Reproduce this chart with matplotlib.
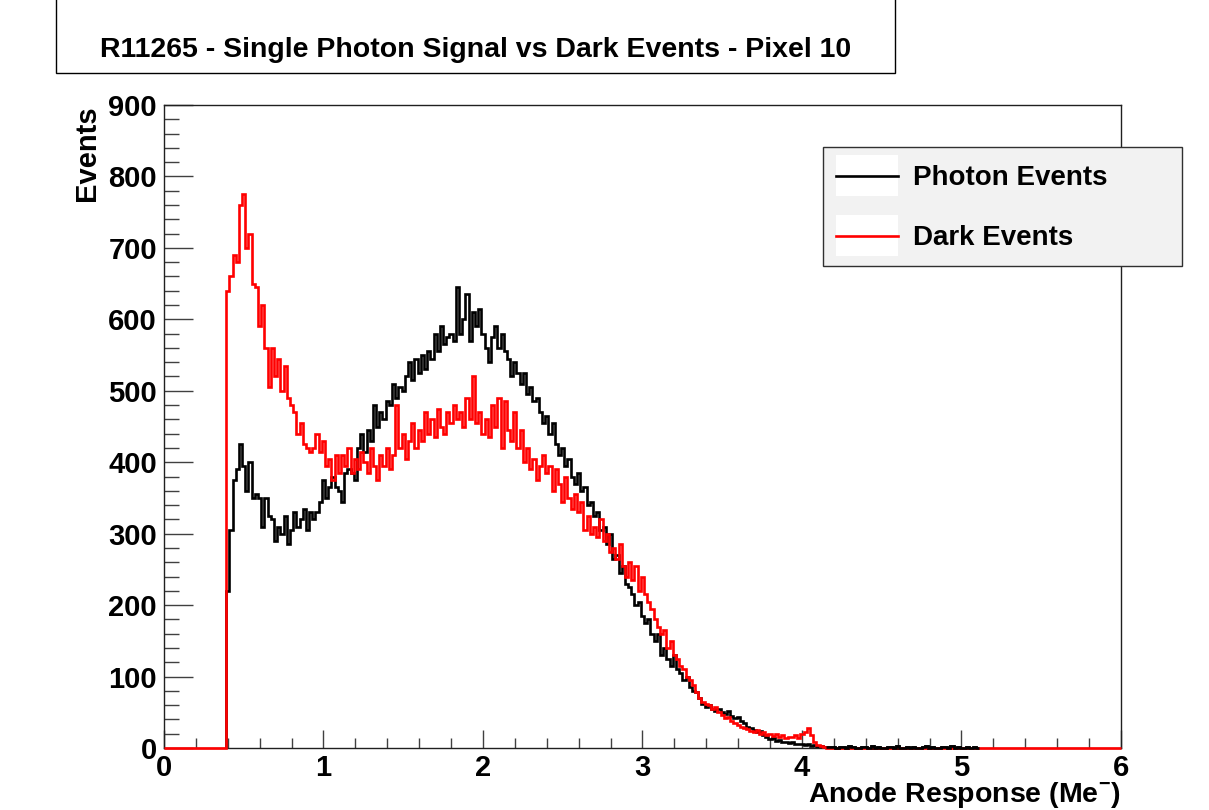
import numpy as np
import matplotlib.pyplot as plt
from matplotlib.patches import Rectangle
from matplotlib.lines import Line2D
from matplotlib.ticker import MultipleLocator

plt.rcParams['font.family'] = ['Liberation Sans', 'DejaVu Sans']
plt.rcParams['font.weight'] = 'bold'
plt.rcParams['mathtext.fontset'] = 'custom'
plt.rcParams['mathtext.rm'] = 'Liberation Sans:bold'
plt.rcParams['mathtext.bf'] = 'Liberation Sans:bold'

# histogram binning (Me-)
first_edge = 0.39
bin_width = 0.02
x_max = 6

# dark events, one value per bin starting at first_edge
dark_counts = [
    640, 660, 690, 680, 760, 775, 700, 720, 650, 645,
    590, 620, 560, 505, 560, 520, 545, 500, 535, 490,
    480, 470, 440, 455, 425, 420, 415, 420, 440, 415,
    430, 395, 405, 375, 410, 385, 410, 395, 420, 385,
    405, 390, 415, 400, 385, 420, 395, 375, 410, 395,
    420, 390, 410, 480, 420, 440, 405, 430, 455, 420,
    445, 430, 470, 440, 460, 435, 475, 450, 440, 470,
    455, 480, 460, 470, 450, 490, 460, 520, 455, 470,
    440, 460, 435, 480, 450, 490, 420, 485, 445, 430,
    470, 420, 445, 400, 420, 390, 405, 375, 395, 410,
    385, 395, 360, 390, 370, 345, 380, 350, 335, 355,
    330, 345, 305, 325, 300, 310, 295, 320, 290, 300,
    275, 280, 265, 285, 255, 240, 260, 235, 255, 220,
    240, 215, 205, 195, 180, 170, 160, 165, 140, 150,
    130, 125, 115, 110, 100, 95, 88, 78, 70, 64,
    62, 60, 55, 58, 50, 46, 42, 44, 38, 35,
    32, 30, 28, 26, 24, 22, 25, 20, 22, 18,
    20, 17, 19, 15, 18, 14, 16, 15, 18, 14,
    20, 22, 28, 18, 8, 4, 3, 1,
]

# photon events, same binning
photon_counts = [
    220, 305, 375, 390, 425, 395, 360, 400, 350, 355,
    350, 310, 350, 325, 320, 290, 310, 300, 325, 285,
    305, 330, 310, 320, 335, 305, 330, 320, 330, 345,
    375, 350, 365, 380, 365, 360, 345, 385, 390, 385,
    375, 420, 440, 415, 445, 430, 480, 450, 470, 460,
    485, 480, 510, 490, 505, 500, 520, 540, 515, 545,
    525, 550, 530, 555, 545, 580, 555, 590, 565, 575,
    580, 570, 645, 580, 600, 635, 570, 610, 590, 615,
    580, 560, 540, 575, 590, 560, 580, 555, 545, 520,
    540, 525, 510, 525, 495, 505, 485, 490, 470, 455,
    465, 440, 455, 425, 410, 420, 395, 405, 380, 370,
    385, 360, 365, 340, 345, 325, 330, 305, 310, 285,
    300, 265, 270, 245, 255, 230, 225, 215, 200, 205,
    185, 175, 180, 160, 150, 160, 130, 140, 125, 115,
    130, 110, 105, 95, 100, 85, 80, 78, 70, 62,
    58, 60, 55, 52, 55, 50, 48, 52, 45, 42,
    44, 38, 35, 30, 28, 25, 22, 24, 18, 15,
    12, 14, 10, 11, 8, 9, 7, 8, 6, 5,
    6, 4, 5, 3, 4, 2, 3, 2, 1, 2,
    1, 0, 2, 1, 0, 3, 1, 0, 0, 2,
    1, 0, 3, 0, 1, 0, 0, 2, 1, 0,
    3, 0, 0, 1, 0, 2, 0, 0, 1, 3,
    0, 1, 0, 0, 2, 1, 0, 3, 0, 1,
    0, 0, 2, 0, 1, 0,
]

photon_edges = first_edge + bin_width * np.arange(len(photon_counts) + 1)
dark_edges = first_edge + bin_width * np.arange(len(dark_counts) + 1)
# dark histogram spans the full axis range, empty outside the data
dark_full_edges = np.concatenate([[0], dark_edges, [x_max]])
dark_full_counts = np.concatenate([[0], dark_counts, [0]])

fig = plt.figure(figsize=(12.09, 8.10), dpi=100)
ax = fig.add_axes([0.1356, 0.0765, 0.7916, 0.7939])

lw = 1.9
ax.stairs(photon_counts, photon_edges, baseline=0, color='black', lw=lw, zorder=2, clip_on=False)
ax.stairs(dark_full_counts, dark_full_edges, baseline=0, color='#ff0000', lw=lw, zorder=3, clip_on=False)
# photon tail beyond the last dark bin sits on top of the red baseline
tail = len(dark_counts)
ax.stairs(photon_counts[tail:], photon_edges[tail:], baseline=None, color='black', lw=lw, zorder=4, clip_on=False)

ax.set_xlim(0, x_max)
ax.set_ylim(0, 900)
ax.xaxis.set_major_locator(MultipleLocator(1))
ax.xaxis.set_minor_locator(MultipleLocator(0.2))
ax.yaxis.set_major_locator(MultipleLocator(100))
ax.yaxis.set_minor_locator(MultipleLocator(20))
ax.tick_params(axis='x', which='both', direction='in', top=False, color='#404040', width=1)
ax.tick_params(axis='y', which='both', direction='in', right=False, color='#404040', width=1)
ax.tick_params(axis='x', which='major', length=13, pad=4, labelsize=21)
ax.tick_params(axis='x', which='minor', length=7)
ax.tick_params(axis='y', which='major', length=21, pad=5, labelsize=21)
ax.tick_params(axis='y', which='minor', length=11)
for lab in ax.get_xticklabels() + ax.get_yticklabels():
    lab.set_fontweight('bold')
for sp in ax.spines.values():
    sp.set_linewidth(1.0)
    sp.set_color('#202020')

fig.text(0.9272, 0.0, r'Anode Response (Me$^{-}$)', ha='right', va='bottom',
         fontsize=20.5, fontweight='bold')
fig.text(0.072, 0.8704, 'Events', rotation=90, ha='center', va='top',
         fontsize=21, fontweight='bold')

# title box
fig.patches.append(Rectangle((0.0463, 0.9099), 0.6940, 0.2, transform=fig.transFigure,
                             facecolor='white', edgecolor='black', lw=1.0))
fig.text(0.393, 0.938, 'R11265 - Single Photon Signal vs Dark Events - Pixel 10',
         ha='center', va='center', fontsize=20.5, fontweight='bold')

# legend box
fig.patches.append(Rectangle((0.6807, 0.6716), 0.2970, 0.1469, transform=fig.transFigure,
                             facecolor='#f2f2f2', edgecolor='#303030', lw=1.0, zorder=5))
labels = ['Photon Events', 'Dark Events']
colors = ['black', '#ff0000']
for k, (lab, col) in enumerate(zip(labels, colors)):
    yc = 0.7830 - k * 0.0741
    fig.patches.append(Rectangle((0.6915, yc - 0.0253), 0.0513, 0.0506, transform=fig.transFigure,
                                 facecolor='white', edgecolor='none', zorder=6))
    fig.lines.append(Line2D([0.6915, 0.7428], [yc, yc], transform=fig.transFigure,
                            color=col, lw=lw, zorder=7))
    fig.text(0.7552, yc - 0.003, lab, ha='left', va='center', fontsize=20, fontweight='bold', zorder=8)

fig.savefig('out.png', dpi=100)
